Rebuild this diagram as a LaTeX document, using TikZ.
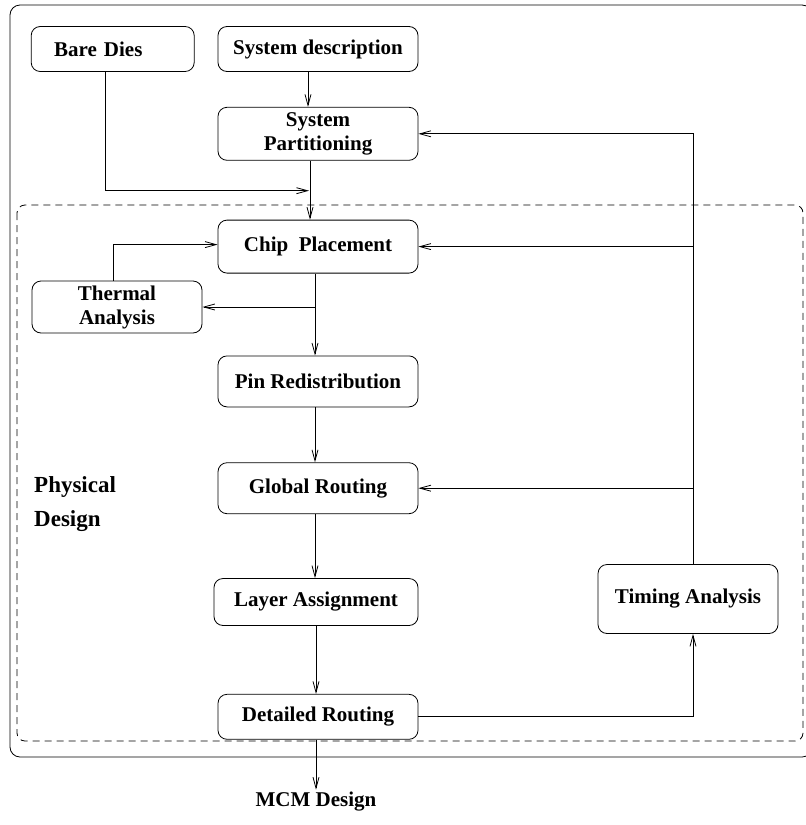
\documentclass[tikz,border=0pt]{standalone}
\usepackage{fontspec}
\setmainfont{Liberation Serif}
\usetikzlibrary{arrows.meta,positioning}

\begin{document}
\begin{tikzpicture}[
  x=1pt, y=-1pt,
  blk/.style={rectangle, draw, rounded corners=9pt, minimum width=200pt, minimum height=48pt, align=center, inner sep=2pt, line width=0.8pt, font=\bfseries\fontsize{21}{24}\selectfont},
  lbl/.style={inner sep=2pt, font=\bfseries\fontsize{21}{24}\selectfont},
  frame/.style={line width=0.8pt, rounded corners=10pt},
  arr/.style={-{Straight Barb[length=11pt, width=6pt]}, line width=0.8pt},
  lin/.style={line width=0.8pt}
]
  \useasboundingbox (0,0) rectangle (806,825);

  % Frames
  \draw[frame] (10,5) rectangle (812,757);
  \draw[frame, rounded corners=8pt, dash pattern=on 7pt off 5pt] (17,205) rectangle (803,741);

  % Inputs
  \node[blk, minimum height=45pt] (sysdesc) at (318,49) {System description};
  \node[blk, minimum width=163pt, minimum height=45pt, text width=117pt, align=left, inner xsep=0pt, left=23pt of sysdesc] (bare) {Bare Dies};

  % Design flow
  \node[blk, minimum height=53pt, below=35pt of sysdesc] (syspart) {System\\Partitioning};
  \node[blk, minimum height=53pt, below=59pt of syspart] (chip) {Chip~~Placement};
  \node[blk, minimum height=51pt, below=82pt of chip] (pin) {Pin Redistribution};
  \node[blk, minimum height=51pt, below=55pt of pin] (global) {Global Routing};
  \node[blk, minimum width=204pt, minimum height=47pt, below=64pt of global, xshift=-2pt] (layer) {Layer Assignment};
  \node[blk, minimum height=45pt, below=68pt of layer, xshift=2pt] (detailed) {Detailed Routing};
  \node[lbl, below=50pt of detailed, xshift=-2pt] (mcm) {MCM Design};

  % Analyses
  \node[blk, minimum width=170pt, minimum height=52pt] (thermal) at (117,307) {Thermal\\Analysis};
  \node[blk, minimum width=180pt, minimum height=69pt] (timing) at (688,599) {Timing Analysis};

  % Label
  \node[anchor=north west, align=left, inner sep=0pt, font=\bfseries\fontsize{23}{34}\selectfont] (phys) at (34,476) {Physical\\Design};

  % Arrows
  \coordinate (merge) at ([xshift=-9pt, yshift=-30pt]syspart.south);
  \draw[arr] ([xshift=-10pt]sysdesc.south) -- ([xshift=-10pt]syspart.north);
  \draw[arr] ([xshift=-8pt]syspart.south) -- ([xshift=-8pt]chip.north);
  \draw[arr] ([xshift=-7pt]bare.south) |- (merge);
  \draw[arr] ([xshift=-4pt]thermal.north) |- ([yshift=2pt]chip.west);
  \draw[arr] ([xshift=-3pt]chip.south) -- ([xshift=-3pt]pin.north);
  \draw[arr] ([xshift=-3pt]chip.south |- thermal.east) -- (thermal.east);
  \draw[arr] ([xshift=-3pt]pin.south) -- ([xshift=-3pt]global.north);
  \draw[arr] ([xshift=-3pt]global.south) -- ([xshift=-1pt]layer.north);
  \draw[arr] (layer.south) -- ([xshift=-2pt]detailed.north);
  \draw[arr] ([xshift=-2pt]detailed.south) -- (mcm.north);
  \draw[arr] (detailed.east) -| ([xshift=5pt]timing.south);

  % Timing feedback
  \draw[arr] ([xshift=5pt]timing.north) |- (syspart.east);
  \draw[arr] ([xshift=5pt]timing.north |- chip.east) -- (chip.east);
  \draw[arr] ([xshift=5pt]timing.north |- global.east) -- (global.east);
\end{tikzpicture}
\end{document}
